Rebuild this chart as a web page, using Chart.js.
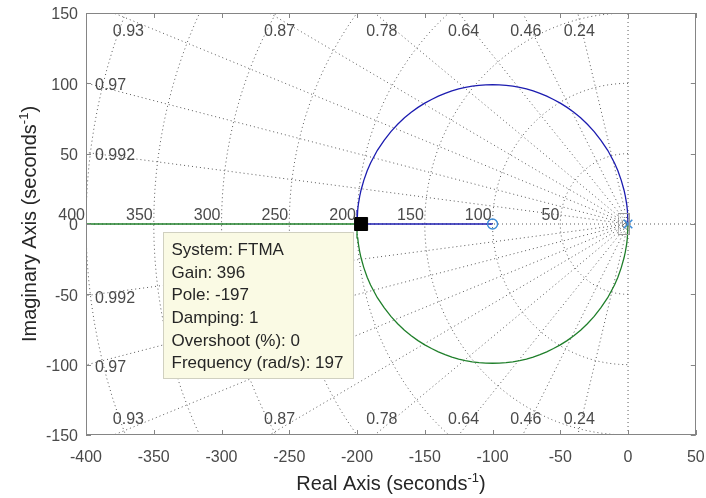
<!DOCTYPE html>
<html><head><meta charset="utf-8">
<script src="https://cdn.jsdelivr.net/npm/chart.js@4.4.1/dist/chart.umd.min.js"></script>
<style>html,body{margin:0;padding:0;background:#fff;}canvas{display:block;}</style>
</head><body>
<canvas id="c" width="706" height="498"></canvas>
<script>
// ---- data ----
const xTicks = [-400, -350, -300, -250, -200, -150, -100, -50, 0, 50];
const yTicks = [-150, -100, -50, 0, 50, 100, 150];
const dampingValues = [0.24, 0.46, 0.64, 0.78, 0.87, 0.93, 0.97, 0.992];
const frequencyValues = [50, 100, 150, 200, 250, 300, 350, 400];

const upperArcX = [0, -0.5, -1, -2, -3, -5, -7.5, -10, -15, -20, -25, -30, -35, -40, -45, -50, -55, -60, -65, -70, -75, -80, -85, -90, -95, -100, -105, -110, -115, -120, -125, -130, -135, -140, -145, -150, -155, -160, -165, -170, -175, -180, -185, -190, -192.5, -195, -197, -198, -199, -199.5, -200];
const upperArcY = [0, 9.9, 14.1, 19.8, 24.2, 31.0, 37.9, 43.4, 52.4, 59.5, 65.7, 70.9, 75.5, 79.4, 82.9, 85.9, 88.5, 90.9, 92.9, 94.6, 96.0, 97.1, 98.0, 98.6, 98.9, 99.0, 98.9, 98.6, 98.0, 97.1, 96.0, 94.6, 92.9, 90.9, 88.5, 85.9, 82.9, 79.4, 75.5, 70.9, 65.7, 59.5, 52.4, 43.4, 37.9, 31.0, 24.2, 19.8, 14.1, 9.9, 0];
const lowerArcX = [0, -0.5, -1, -2, -3, -5, -7.5, -10, -15, -20, -25, -30, -35, -40, -45, -50, -55, -60, -65, -70, -75, -80, -85, -90, -95, -100, -105, -110, -115, -120, -125, -130, -135, -140, -145, -150, -155, -160, -165, -170, -175, -180, -185, -190, -192.5, -195, -197, -198, -199, -199.5, -200];
const lowerArcY = [0, -9.9, -14.1, -19.8, -24.2, -31.0, -37.9, -43.4, -52.4, -59.5, -65.7, -70.9, -75.5, -79.4, -82.9, -85.9, -88.5, -90.9, -92.9, -94.6, -96.0, -97.1, -98.0, -98.6, -98.9, -99.0, -98.9, -98.6, -98.0, -97.1, -96.0, -94.6, -92.9, -90.9, -88.5, -85.9, -82.9, -79.4, -75.5, -70.9, -65.7, -59.5, -52.4, -43.4, -37.9, -31.0, -24.2, -19.8, -14.1, -9.9, 0];
const blueRealX = [-200, -100];
const blueRealY = [0, 0];
const greenRealX = [-200, -400];
const greenRealY = [0, 0];
const zeroX = [-100], zeroY = [0];
const poleX = [0], poleY = [0];
const selectedX = [-197], selectedY = [0];
const pickedX = [-3.3], pickedY = [0];
const tipLines = ['System: FTMA', 'Gain: 396', 'Pole: -197', 'Damping: 1', 'Overshoot (%): 0', 'Frequency (rad/s): 197'];

// ---- helpers ----
const pts = (xs, ys) => xs.map((v, i) => ({x: v, y: ys[i]}));
const FONT = '"Liberation Sans", Arial, Helvetica, sans-serif';
Chart.defaults.font.family = FONT;

const gridColor = '#5a5a5a';
const gridDash = [1, 3];
const gridSets = [];
// damping rays (upper + lower through origin)
dampingValues.forEach(z => {
  const R = 3000, c = -z * R, s = Math.sqrt(1 - z * z) * R;
  gridSets.push({data: [{x: c, y: s}, {x: 0, y: 0}, {x: c, y: -s}]});
});
// zeta = 0 and zeta = 1 lines
gridSets.push({data: [{x: 0, y: -150}, {x: 0, y: 150}]});
gridSets.push({data: [{x: -400, y: 0}, {x: 50, y: 0}]});
// natural frequency circles
frequencyValues.forEach(r => {
  const d = [];
  for (let a = 90; a <= 270; a += 2) {
    const t = a * Math.PI / 180;
    d.push({x: r * Math.cos(t), y: r * Math.sin(t)});
  }
  gridSets.push({data: d});
});
const gridDatasets = gridSets.map(g => ({
  data: g.data, showLine: true, borderColor: gridColor, borderWidth: 1,
  borderDash: gridDash, pointRadius: 0, tension: 0, fill: false
}));

// grey picked-marker box image
const boxImg = document.createElement('canvas');
boxImg.width = 12; boxImg.height = 22;
(() => { const g = boxImg.getContext('2d'); g.strokeStyle = '#9a9a9a'; g.lineWidth = 1; g.strokeRect(0.5, 0.5, 11, 21); })();

const markerBlue = '#3b8bd6';
const locusBlue = '#1c1cb0';
const locusGreen = '#1f7f2a';

const datasets = [
  {data: pts(selectedX, selectedY), pointStyle: 'rect', pointRadius: 9.2, backgroundColor: '#000', borderColor: '#000', borderWidth: 1, showLine: false},
  {data: pts(pickedX, pickedY), pointStyle: boxImg, pointRadius: 8, showLine: false},
  {data: pts(poleX, poleY), pointStyle: 'crossRot', pointRadius: 6, borderColor: markerBlue, borderWidth: 1.6, backgroundColor: markerBlue, showLine: false},
  {data: pts(zeroX, zeroY), pointStyle: 'circle', pointRadius: 5, borderColor: markerBlue, borderWidth: 1.4, backgroundColor: 'rgba(0,0,0,0)', showLine: false},
  {data: pts(upperArcX, upperArcY), showLine: true, borderColor: locusBlue, borderWidth: 1.3, pointRadius: 0, tension: 0},
  {data: pts(blueRealX, blueRealY), showLine: true, borderColor: locusBlue, borderWidth: 1.5, pointRadius: 0},
  {data: pts(lowerArcX, lowerArcY), showLine: true, borderColor: locusGreen, borderWidth: 1.3, pointRadius: 0, tension: 0},
  {data: pts(greenRealX, greenRealY), showLine: true, borderColor: locusGreen, borderWidth: 1.5, pointRadius: 0},
  ...gridDatasets
];

const decor = {
  id: 'decor',
  afterDatasetsDraw(chart) {
    const {ctx, chartArea: a, scales: {x, y}} = chart;
    ctx.save();
    // sgrid labels
    ctx.font = '16px ' + FONT;
    ctx.fillStyle = '#4a4a4a';
    const y0 = y.getPixelForValue(0);
    ctx.textAlign = 'right'; ctx.textBaseline = 'alphabetic';
    frequencyValues.forEach(r => ctx.fillText(String(r), x.getPixelForValue(-r) - 1, y0 - 4.5));
    const kx = x.getPixelForValue(1) - x.getPixelForValue(0);
    const ky = y.getPixelForValue(0) - y.getPixelForValue(1);
    dampingValues.forEach(z => {
      const s = Math.sqrt(1 - z * z) / z;
      const yLeft = -x.min * s;
      if (yLeft < y.max) {
        ctx.textAlign = 'left'; ctx.textBaseline = 'middle';
        ctx.fillText(String(z), a.left + 9, y.getPixelForValue(yLeft) + 3);
        ctx.fillText(String(z), a.left + 9, y.getPixelForValue(-yLeft) + 3);
      } else {
        const px = x.getPixelForValue(-y.max / s);
        const cx = px + 6 / (s * ky / kx);
        ctx.textAlign = 'center'; ctx.textBaseline = 'middle';
        ctx.fillText(String(z), cx, a.top + 19);
        ctx.fillText(String(z), cx, a.bottom - 15);
      }
    });
    // axes box and inward ticks
    ctx.strokeStyle = '#858585'; ctx.lineWidth = 1;
    ctx.strokeRect(Math.round(a.left) + 0.5, Math.round(a.top) + 0.5, Math.round(a.right - a.left) - 1, Math.round(a.bottom - a.top) - 1);
    ctx.beginPath();
    x.ticks.forEach(t => {
      const p = Math.round(x.getPixelForValue(t.value)) + 0.5;
      ctx.moveTo(p, a.bottom); ctx.lineTo(p, a.bottom - 5);
      ctx.moveTo(p, a.top); ctx.lineTo(p, a.top + 5);
    });
    y.ticks.forEach(t => {
      const p = Math.round(y.getPixelForValue(t.value)) + 0.5;
      ctx.moveTo(a.left, p); ctx.lineTo(a.left + 5, p);
      ctx.moveTo(a.right, p); ctx.lineTo(a.right - 5, p);
    });
    ctx.stroke();
    // data tip
    const mx = x.getPixelForValue(selectedX[0]), my = y.getPixelForValue(selectedY[0]);
    const bl = Math.round(mx - 198.5) + 0.5, bt = Math.round(my + 8) + 0.5, bw = 190, bh = 146;
    ctx.fillStyle = '#fafae4';
    ctx.fillRect(bl, bt, bw, bh);
    ctx.strokeStyle = '#d0d0c0';
    ctx.strokeRect(bl, bt, bw, bh);
    ctx.fillStyle = '#262626';
    ctx.font = '17px ' + FONT;
    ctx.textAlign = 'left'; ctx.textBaseline = 'middle';
    tipLines.forEach((l, i) => ctx.fillText(l, bl + 8, bt + 18 + i * 22.6));
    ctx.restore();
  },
  afterDraw(chart) {
    const {ctx, chartArea: a} = chart;
    ctx.save();
    ctx.fillStyle = '#262626';
    ctx.textBaseline = 'alphabetic'; ctx.textAlign = 'left';
    const BIG = '20px ' + FONT, SMALL = '13px ' + FONT;
    const drawLabel = (main, cx, base) => {
      ctx.font = BIG; const w1 = ctx.measureText(main).width, w3 = ctx.measureText(')').width;
      ctx.font = SMALL; const w2 = ctx.measureText('-1').width;
      const sx = cx - (w1 + w2 + w3) / 2;
      ctx.font = BIG; ctx.fillText(main, sx, base);
      ctx.font = SMALL; ctx.fillText('-1', sx + w1, base - 8);
      ctx.font = BIG; ctx.fillText(')', sx + w1 + w2, base);
    };
    drawLabel('Real Axis (seconds', (a.left + a.right) / 2, 490);
    ctx.save();
    ctx.translate(36, (a.top + a.bottom) / 2);
    ctx.rotate(-Math.PI / 2);
    drawLabel('Imaginary Axis (seconds', 0, 0);
    ctx.restore();
    ctx.restore();
  }
};

new Chart(document.getElementById('c'), {
  type: 'scatter',
  data: {datasets},
  options: {
    responsive: false, animation: false,
    layout: {padding: {left: 0, top: 13, right: 9, bottom: 0}},
    plugins: {legend: {display: false}, tooltip: {enabled: false}},
    scales: {
      x: {
        type: 'linear', min: -400, max: 50,
        afterBuildTicks: s => { s.ticks = xTicks.map(v => ({value: v})); },
        afterFit: s => { s.height = 63; s.paddingLeft = 0; s.paddingRight = 0; },
        grid: {display: false, drawTicks: false}, border: {display: false},
        ticks: {font: {size: 16}, color: '#4a4a4a', padding: 13, maxRotation: 0, autoSkip: false}
      },
      y: {
        type: 'linear', min: -150, max: 150,
        afterBuildTicks: s => { s.ticks = yTicks.map(v => ({value: v})); },
        afterFit: s => { s.width = 86; s.paddingTop = 0; s.paddingBottom = 0; },
        grid: {display: false, drawTicks: false}, border: {display: false},
        ticks: {font: {size: 16}, color: '#4a4a4a', padding: 8, labelOffset: 2, autoSkip: false}
      }
    }
  },
  plugins: [decor]
});
</script>
</body></html>
